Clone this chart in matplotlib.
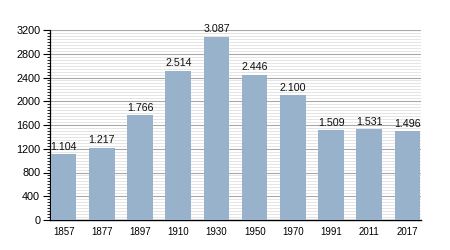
import matplotlib.pyplot as plt
from matplotlib.ticker import MultipleLocator

years = ['1857', '1877', '1897', '1910', '1930', '1950', '1970', '1991', '2011', '2017']
population = [1104, 1217, 1766, 2514, 3087, 2446, 2100, 1509, 1531, 1496]
value_labels = ['1.104', '1.217', '1.766', '2.514', '3.087', '2.446', '2.100', '1.509', '1.531', '1.496']

plt.rcParams['font.family'] = ['Liberation Sans', 'DejaVu Sans']

fig = plt.figure(figsize=(4.5, 2.5), dpi=100)
ax = fig.add_axes([0.111, 0.12, 0.825, 0.76])

x = range(len(years))
ax.bar(x, population, width=0.67, color='#98b2cc', zorder=3)
for xi, v, lab in zip(x, population, value_labels):
    ax.text(xi, v + 40, lab, ha='center', va='bottom', fontsize=7.7, color='#111111', zorder=4)

ax.set_xlim(-0.36, 9.36)
ax.set_ylim(0, 3200)
ax.set_xticks(list(x))
ax.set_xticklabels(years)
ax.yaxis.set_major_locator(MultipleLocator(400))
ax.yaxis.set_minor_locator(MultipleLocator(50))
ax.grid(True, which='major', axis='y', color='#a8a8a8', linewidth=0.8, zorder=1)
ax.grid(True, which='minor', axis='y', color='#e0e0e0', linewidth=0.6, zorder=0)

for side in ['top', 'right']:
    ax.spines[side].set_visible(False)
ax.spines['left'].set_linewidth(0.9)
ax.spines['bottom'].set_linewidth(1.0)
ax.tick_params(axis='y', which='major', direction='out', length=5, width=0.8, labelsize=7.8, pad=2)
ax.tick_params(axis='y', which='minor', direction='out', length=2.5, width=0.6)
ax.tick_params(axis='x', length=0, labelsize=7, pad=5)

fig.savefig('out.png', dpi=100)
